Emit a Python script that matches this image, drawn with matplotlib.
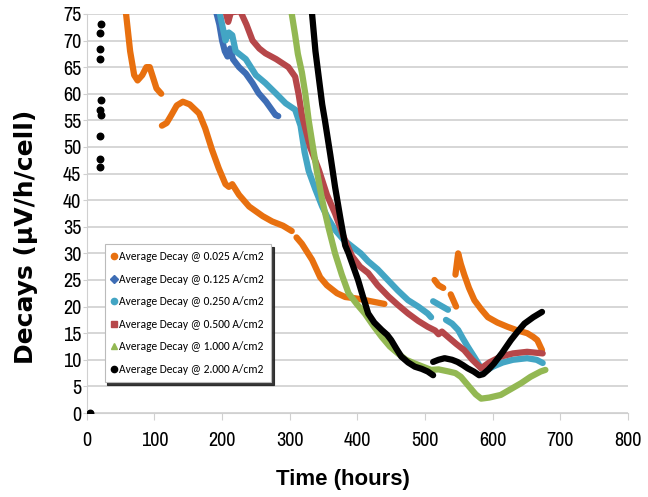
import numpy as np
import matplotlib.pyplot as plt
from matplotlib.lines import Line2D

# 0.025 A/cm2 (orange) - drawn in pieces, the trace has gaps
t_025 = [
    [58, 64, 70, 75, 82, 88, 93, 98, 103, 110],
    [111, 118, 125, 133, 142, 152, 166, 175, 185, 195, 205, 210, 215, 225, 240, 260, 274, 290, 303],
    [310, 318, 333, 345, 355, 370, 382, 400, 420, 440],
    [514, 520, 527],
    [538, 546],
    [545, 549, 553, 558, 565, 573, 583, 593, 607, 622, 637, 651, 660, 666, 673],
]
d_025 = [
    [75, 68, 63.5, 62.5, 63.5, 65, 65, 63, 61, 60],
    [54, 54.5, 56, 57.8, 58.5, 58, 56.3, 53.5, 49.5, 46, 43, 42.5, 43, 41, 38.8, 37, 36, 35.2, 34.2],
    [33, 31.8, 28.8, 25.5, 24, 22.5, 21.8, 21.5, 21, 20.5],
    [25, 24, 23.5],
    [22.3, 20],
    [26, 30, 28, 26, 23.5, 21.2, 19.5, 18, 17, 16.2, 15.5, 15, 14.3, 13.7, 11.8],
]

# 0.125 A/cm2 (blue)
t_125 = [191, 196, 200, 204, 208, 212, 216, 225, 235, 245, 254, 265, 279, 283]
d_125 = [75.5, 73, 70, 68, 67, 68.5, 66.5, 65, 63.8, 62, 60.1, 58.5, 56, 55.8]

# 0.250 A/cm2 (cyan)
t_250 = [
    [196, 200, 205, 210, 215, 220, 235, 250, 264, 280, 294, 308, 316, 322, 328, 338, 348, 357, 367,
     380, 395, 405, 416, 430, 445, 460, 475, 490, 504, 509],
    [512, 523, 534],
    [531, 540, 549, 556, 563, 573, 583, 590, 602, 615, 630, 651, 665, 674],
]
d_250 = [
    [75.5, 73, 70, 71.5, 71, 68, 66.5, 63.5, 62, 60, 58.2, 57, 54, 49, 45.5, 42, 38.8, 36.5, 34.4,
     32.5, 31, 30, 28.5, 27, 25, 23, 21.2, 20, 18.7, 18],
    [21, 20.2, 19.4],
    [17.5, 16.8, 15.6, 14, 12.5, 10.5, 8.4, 8, 8.8, 9.5, 10, 10.3, 10, 9.4],
]

# 0.500 A/cm2 (red)
t_500 = [205, 209, 213, 227, 236, 245, 255, 264, 280, 298, 308, 313, 318, 330, 343, 355, 367, 380,
         392, 404, 416, 430, 446, 460, 475, 490, 504, 515, 520, 525, 534, 546, 558, 570, 583, 595,
         612, 630, 651, 674]
d_500 = [75.5, 73.5, 75.3, 75.5, 73, 70, 68.5, 67.6, 66.5, 65, 63.2, 60, 56, 50, 45.7, 41, 37.5, 33,
         29.5, 27.5, 26.3, 24, 21.9, 20.3, 18.7, 17.3, 16.2, 15.5, 14.8, 15.3, 14.3, 13, 11.8, 10, 8.4,
         9.5, 10.6, 11.2, 11.5, 11.2]

# 1.000 A/cm2 (green)
t_1000 = [303, 308, 312, 318, 323, 328, 333, 340, 348, 357, 367, 377, 387, 399, 411, 423, 436, 448,
          460, 472, 485, 497, 509, 520, 535, 545, 553, 565, 575, 583, 595, 612, 627, 642, 656, 671, 678]
d_1000 = [75, 71, 67.5, 64, 60, 55, 51, 45.5, 40, 35, 30, 26, 22.5, 20.5, 18.7, 16.5, 14.3, 12.5,
          11.2, 10, 9.3, 8.7, 8.1, 8.2, 7.8, 7.5, 6.8, 5, 3.5, 2.7, 2.9, 3.4, 4.5, 5.6, 6.8, 7.8, 8.1]

# 2.000 A/cm2 (black)
t_2000 = [
    [333, 338, 343, 348, 352, 360, 367, 375, 382, 387, 394, 401, 408, 416, 425, 436, 444, 450, 458,
     465, 475, 485, 495, 504, 512],
    [512, 520, 529, 540, 548, 556, 563, 572, 580, 586, 594, 602, 614, 627, 637, 647, 660, 673],
]
d_2000 = [
    [75, 68, 63, 58, 55, 48.5, 42.5, 36.5, 31.5, 30, 27.5, 25, 22, 18.7, 17, 15.6, 14.7, 13.7, 12,
     10.6, 9.5, 8.7, 8.3, 7.8, 7.1],
    [9.6, 10, 10.3, 10, 9.6, 9, 8.4, 7.8, 7.1, 7.3, 8.2, 9.3, 11.3, 13.7, 15.3, 16.8, 18, 19],
]
# scattered early points of the 2.000 series
t_dots = [5, 21, 19, 19, 20, 21, 19, 21, 19, 19, 19]
d_dots = [0, 73.1, 71.5, 68.4, 66.5, 58.8, 57.0, 56.0, 52.1, 47.7, 46.3]

labels = ["Average Decay @ 0.025 A/cm2", "Average Decay @ 0.125 A/cm2",
          "Average Decay @ 0.250 A/cm2", "Average Decay @ 0.500 A/cm2",
          "Average Decay @ 1.000 A/cm2", "Average Decay @ 2.000 A/cm2"]
colors = ["#E8700F", "#3E6DB5", "#43A5C4", "#B6474A", "#93B853", "#000000"]
markers = ["o", "D", "o", "s", "^", "o"]

narrow = ["Archivo Narrow", "Liberation Sans", "DejaVu Sans"]
arial = ["Liberation Sans", "DejaVu Sans"]
calibri = ["Carlito", "DejaVu Sans"]

fig = plt.figure(figsize=(6.48, 4.97), dpi=100)
ax = fig.add_axes([0.134, 0.169, 0.835, 0.803])

lw = 4.5
for xs, ys in zip(t_025, d_025):
    ax.plot(xs, ys, color=colors[0], lw=lw, solid_capstyle="round", zorder=3)
ax.plot(t_125, d_125, color=colors[1], lw=lw, solid_capstyle="round", zorder=3)
for xs, ys in zip(t_250, d_250):
    ax.plot(xs, ys, color=colors[2], lw=lw, solid_capstyle="round", zorder=4)
ax.plot(t_500, d_500, color=colors[3], lw=lw, solid_capstyle="round", zorder=5)
ax.plot(t_1000, d_1000, color=colors[4], lw=lw, solid_capstyle="round", zorder=6)
for xs, ys in zip(t_2000, d_2000):
    ax.plot(xs, ys, color=colors[5], lw=lw, solid_capstyle="round", zorder=7)
ax.scatter(t_dots, d_dots, color="black", s=22, zorder=8)

ax.set_xlim(0, 800)
ax.set_ylim(0, 75)
ax.set_xticks(np.arange(0, 801, 100))
ax.set_yticks(np.arange(0, 76, 5))
ax.grid(axis="y", color="#d0d0d0", lw=1.2)
ax.set_axisbelow(True)
for s in ["top", "right"]:
    ax.spines[s].set_visible(False)
ax.spines["left"].set_color("#d0d0d0")
ax.spines["bottom"].set_color("#d0d0d0")
ax.tick_params(axis="both", colors="#d0d0d0", labelcolor="black")
ax.tick_params(axis="x", length=5, pad=8)
ax.tick_params(axis="y", length=3, pad=1)
for lab in ax.get_xticklabels() + ax.get_yticklabels():
    lab.set_family(narrow)
    lab.set_fontsize(14.5)

ax.set_xlabel("Time (hours)", family=arial, fontsize=16, fontweight="bold")
ax.xaxis.set_label_coords(0.474, -0.14)
ax.set_ylabel("Decays (μV/h/cell)", family=["DejaVu Sans"], fontsize=18, fontweight="bold")
ax.yaxis.set_label_coords(-0.09, 0.441)

handles = [Line2D([], [], ls="none", marker=m, color=c, markersize=4.5)
           for m, c in zip(markers, colors)]
leg = ax.legend(handles, labels, loc="lower left", bbox_to_anchor=(0.033, 0.078),
                prop={"family": calibri, "size": 8.3}, frameon=True, fancybox=False,
                shadow={"color": "#222222", "alpha": 0.9}, handletextpad=0.15,
                handlelength=0.5, labelspacing=1.0, borderpad=0.6, borderaxespad=0)
leg.get_frame().set_edgecolor("#bbbbbb")
leg.get_frame().set_linewidth(0.8)
leg.set_zorder(10)

fig.savefig("out.png", dpi=100)
